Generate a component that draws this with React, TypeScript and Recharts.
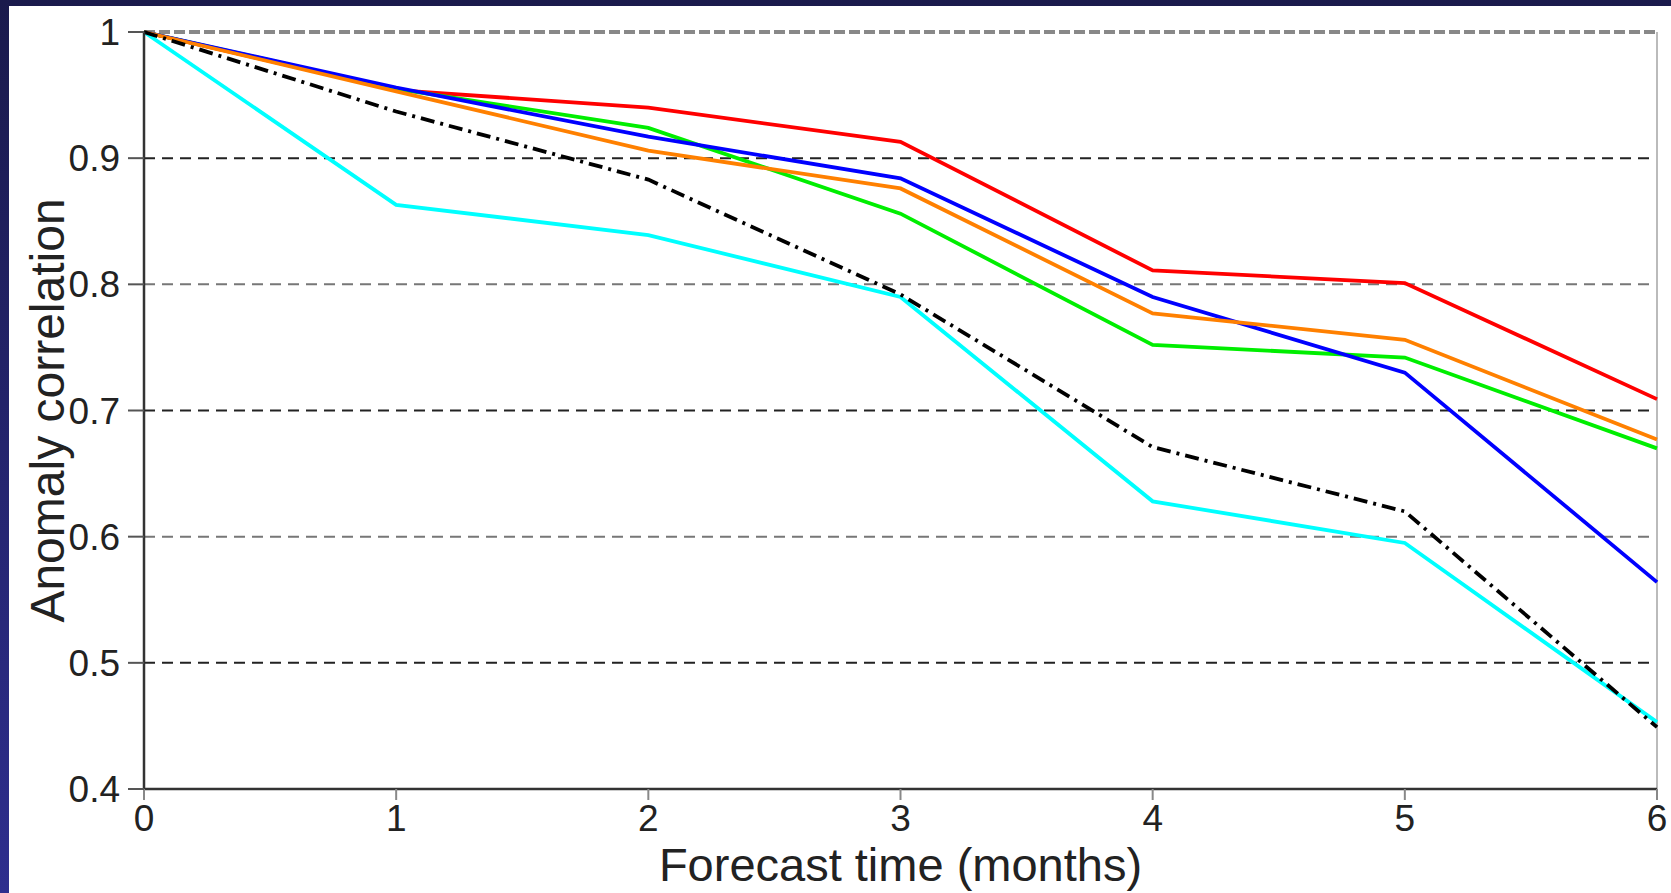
import { LineChart, Line, XAxis, YAxis, ReferenceLine } from 'recharts';

// forecast lead time (months)
const months = [0, 1, 2, 3, 4, 5, 6];

// anomaly correlation per forecast system
const redSeries = [1, 0.954, 0.94, 0.913, 0.811, 0.801, 0.709];
const blueSeries = [1, 0.956, 0.917, 0.884, 0.79, 0.73, 0.564];
const greenSeries = [1, 0.955, 0.924, 0.856, 0.752, 0.742, 0.67];
const orangeSeries = [1, 0.953, 0.906, 0.876, 0.777, 0.756, 0.677];
const cyanSeries = [1, 0.863, 0.839, 0.79, 0.628, 0.595, 0.453];
const blackSeries = [1, 0.937, 0.883, 0.792, 0.671, 0.62, 0.449];

const xTicks = [0, 1, 2, 3, 4, 5, 6];
const yTicks = [0.4, 0.5, 0.6, 0.7, 0.8, 0.9, 1];
// alternating grid colours as in the original plot
const gridLines = [
  { y: 0.5, color: '#222' },
  { y: 0.6, color: '#777' },
  { y: 0.7, color: '#222' },
  { y: 0.8, color: '#777' },
  { y: 0.9, color: '#222' },
];

const data = months.map((m, i) => ({
  month: m,
  red: redSeries[i],
  blue: blueSeries[i],
  green: greenSeries[i],
  orange: orangeSeries[i],
  cyan: cyanSeries[i],
  black: blackSeries[i],
}));

const font = '"Liberation Sans", Arial, sans-serif';
const tickStyle = { fontSize: 37, fill: '#222', fontFamily: font };

const fmtY = (v: number) => (v === 1 ? '1' : v.toFixed(1));

export default function App() {
  return (
    <div
      style={{
        position: 'absolute',
        left: 0,
        top: 0,
        width: 1671,
        height: 893,
        background: 'linear-gradient(to bottom, #1a1a4c, #2e2e8e)',
      }}
    >
      <div style={{ position: 'absolute', left: 9, top: 6, width: 1662, height: 887, background: '#fff' }}>
        <LineChart width={1662} height={887} data={data} margin={{ top: 26, right: 14, bottom: 0, left: 0 }}>
          {gridLines.map((g) => (
            <ReferenceLine key={g.y} y={g.y} stroke={g.color} strokeWidth={2} strokeDasharray="11 7" />
          ))}
          <ReferenceLine y={1} stroke="#888" strokeWidth={4} strokeDasharray="11 4" />
          <ReferenceLine x={6} stroke="#bbb" strokeWidth={2} />
          <XAxis
            dataKey="month"
            type="number"
            domain={[0, 6]}
            ticks={xTicks}
            height={104}
            tick={tickStyle}
            tickSize={11}
            tickMargin={5}
            stroke="#333"
            strokeWidth={2.5}
            tickLine={{ stroke: '#888', strokeWidth: 2 }}
            label={{
              value: 'Forecast time (months)',
              position: 'insideBottom',
              offset: 12,
              style: { fontSize: 47, fill: '#222', fontFamily: font },
            }}
          />
          <YAxis
            type="number"
            domain={[0.4, 1]}
            ticks={yTicks}
            width={135}
            tick={tickStyle}
            tickFormatter={fmtY}
            tickSize={16}
            tickMargin={8}
            stroke="#333"
            strokeWidth={2.5}
            tickLine={{ stroke: '#555', strokeWidth: 2 }}
            label={{
              value: 'Anomaly correlation',
              angle: -90,
              position: 'insideLeft',
              offset: 38,
              style: { fontSize: 48, fill: '#222', fontFamily: font, textAnchor: 'middle' },
            }}
          />
          <Line dataKey="red" stroke="#ff0000" strokeWidth={3.8} dot={false} isAnimationActive={false} />
          <Line dataKey="green" stroke="#00ee00" strokeWidth={3.8} dot={false} isAnimationActive={false} />
          <Line dataKey="blue" stroke="#0000ff" strokeWidth={3.8} dot={false} isAnimationActive={false} />
          <Line dataKey="orange" stroke="#ff8000" strokeWidth={3.8} dot={false} isAnimationActive={false} />
          <Line dataKey="cyan" stroke="#00ffff" strokeWidth={3.8} dot={false} isAnimationActive={false} />
          <Line
            dataKey="black"
            stroke="#000"
            strokeWidth={3.8}
            strokeDasharray="14 6 3 6"
            dot={false}
            isAnimationActive={false}
          />
        </LineChart>
      </div>
    </div>
  );
}
